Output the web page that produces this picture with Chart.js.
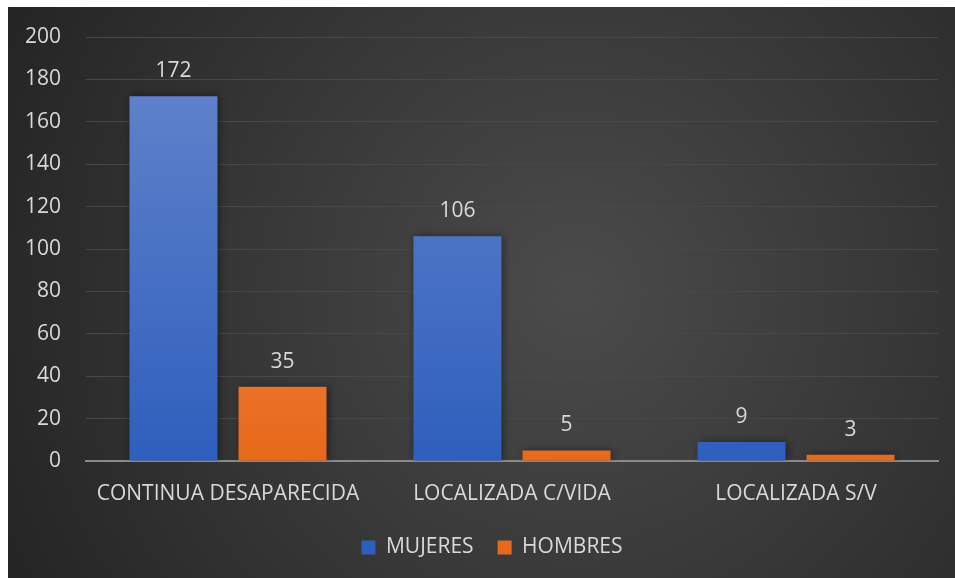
<!DOCTYPE html>
<html>
<head>
<meta charset="utf-8">
<script src="https://cdn.jsdelivr.net/npm/chart.js@4"></script>
<style>
  html, body { margin: 0; padding: 0; background: #ffffff; }
  #wrap { position: absolute; left: 8px; top: 7px; width: 947px; height: 571px; }
</style>
</head>
<body>
<div id="wrap"><canvas id="estatusChart"></canvas></div>
<script>
// Chart data
const categories = ['CONTINUA DESAPARECIDA', 'LOCALIZADA C/VIDA', 'LOCALIZADA S/V'];
const mujeres = [172, 106, 9];
const hombres = [35, 5, 3];
const seriesNames = ['MUJERES', 'HOMBRES'];

const textColor = '#d9d9d9';
const fontFamily = "'Open Sans', 'Noto Sans', sans-serif";
const fontSize = 21;

// vertical gradient for each bar colour
function barGradient(context, top, bottom) {
  const area = context.chart.chartArea;
  if (!area) return bottom;
  const g = context.chart.ctx.createLinearGradient(0, area.top, 0, area.bottom);
  g.addColorStop(0, top);
  g.addColorStop(1, bottom);
  return g;
}

// dark radial background
const backgroundPlugin = {
  id: 'darkBackground',
  beforeDraw(chart) {
    const { ctx, width, height } = chart;
    const cx = width * 0.6, cy = height * 0.5;
    const g = ctx.createRadialGradient(cx, cy, 0, cx, cy, width * 0.68);
    g.addColorStop(0, '#4b4b4b');
    g.addColorStop(1, '#242424');
    ctx.save();
    ctx.fillStyle = g;
    ctx.fillRect(0, 0, width, height);
    ctx.restore();
  }
};

// soft shadow under bars
const shadowPlugin = {
  id: 'barShadow',
  beforeDatasetDraw(chart) {
    const ctx = chart.ctx;
    ctx.save();
    ctx.shadowColor = 'rgba(0,0,0,0.45)';
    ctx.shadowBlur = 8;
    ctx.shadowOffsetX = 2;
    ctx.shadowOffsetY = 0;
  },
  afterDatasetDraw(chart) {
    chart.ctx.restore();
  }
};

// value labels above each bar
const valueLabelPlugin = {
  id: 'valueLabels',
  afterDatasetsDraw(chart) {
    const ctx = chart.ctx;
    ctx.save();
    ctx.fillStyle = textColor;
    ctx.font = `${fontSize}px ${fontFamily}`;
    ctx.textAlign = 'center';
    ctx.textBaseline = 'middle';
    chart.data.datasets.forEach((ds, i) => {
      chart.getDatasetMeta(i).data.forEach((bar, j) => {
        ctx.fillText(ds.data[j], bar.x, bar.y - 25);
      });
    });
    ctx.restore();
  }
};

// legend sits a little right of the canvas centre in the original
const legendShift = {
  id: 'legendShift',
  afterLayout(chart) {
    if (chart.legend) {
      chart.legend.left += 19;
      chart.legend.right += 19;
    }
  }
};

new Chart(document.getElementById('estatusChart'), {
  type: 'bar',
  data: {
    labels: categories,
    datasets: [
      {
        label: seriesNames[0],
        data: mujeres,
        backgroundColor: (c) => barGradient(c, '#6686cc', '#2e5fbd'),
        borderWidth: 0
      },
      {
        label: seriesNames[1],
        data: hombres,
        backgroundColor: (c) => barGradient(c, '#f39a60', '#e8691a'),
        borderWidth: 0
      }
    ]
  },
  options: {
    responsive: true,
    maintainAspectRatio: false,
    animation: false,
    layout: { padding: { top: 30, right: 17, left: 0, bottom: 10 } },
    datasets: {
      bar: { categoryPercentage: 0.768, barPercentage: 0.807 }
    },
    scales: {
      x: {
        grid: { display: false, drawTicks: false },
        border: { display: true, color: '#8a8a8a', width: 2 },
        ticks: { color: textColor, padding: 20, font: { family: fontFamily, size: fontSize } },
        afterFit(scale) { scale.height = 52; }
      },
      y: {
        min: 0,
        max: 200,
        ticks: { stepSize: 20, color: textColor, padding: 25, font: { family: fontFamily, size: fontSize } },
        grid: { color: '#484848', lineWidth: 1, drawTicks: false },
        border: { display: false },
        afterFit(scale) {
          scale.width = 78;
          scale.paddingTop = 0;
          scale.paddingBottom = 0;
        }
      }
    },
    plugins: {
      legend: {
        position: 'bottom',
        labels: {
          color: textColor,
          boxWidth: 14,
          boxHeight: 14,
          padding: 24,
          font: { family: fontFamily, size: fontSize }
        }
      },
      tooltip: { enabled: false }
    }
  },
  plugins: [backgroundPlugin, shadowPlugin, valueLabelPlugin, legendShift]
});
</script>
</body>
</html>
